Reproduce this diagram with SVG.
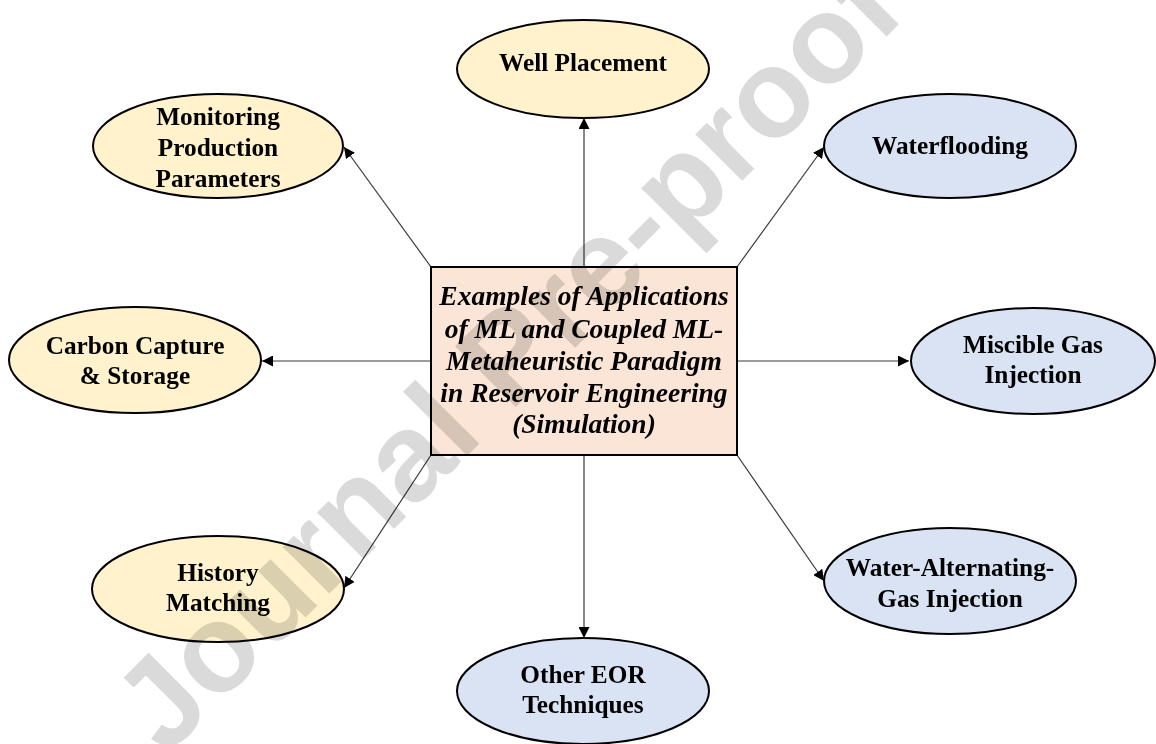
<svg xmlns="http://www.w3.org/2000/svg" width="1156" height="744" viewBox="0 0 1156 744">
<style>
.y{fill:#FFF2CC;stroke:#000;stroke-width:2}
.b{fill:#DAE3F3;stroke:#000;stroke-width:2}
.t{font-family:"Liberation Serif","Times New Roman",serif;font-weight:bold;font-size:25.3px;fill:#000;text-anchor:middle}
.c{font-family:"Liberation Serif","Times New Roman",serif;font-weight:bold;font-style:italic;font-size:27.5px;fill:#000;text-anchor:middle}
.ln{stroke:#3a3a3a;stroke-width:1.2;fill:none;marker-end:url(#ah)}
.wm{font-family:"Liberation Sans",Arial,sans-serif;font-weight:bold;font-size:125px;fill:#dadada;text-anchor:middle;mix-blend-mode:multiply}
</style>
<defs>
<marker id="ah" markerUnits="userSpaceOnUse" markerWidth="11" markerHeight="11" refX="11" refY="5.5" orient="auto">
<path d="M0,0 L11,5.5 L0,11 z" fill="#000"/>
</marker>
</defs>
<rect width="1156" height="744" fill="#fff"/>
<g id="connectors">
<path class="ln" d="M584,267 L584,118"/>
<path class="ln" d="M584,455 L584,638"/>
<path class="ln" d="M431,361 L262,361"/>
<path class="ln" d="M737,361 L909,361"/>
<path class="ln" d="M431,267 L344,147"/>
<path class="ln" d="M737,267 L824,147"/>
<path class="ln" d="M431,455 L344,588"/>
<path class="ln" d="M737,455 L824,581"/>
</g>
<g id="center">
<rect x="431" y="267" width="306" height="188" fill="#FBE5D6" stroke="#000" stroke-width="2"/>
<text class="c" x="584" y="305">Examples of Applications</text>
<text class="c" x="584" y="338">of ML and Coupled ML-</text>
<text class="c" x="584" y="370">Metaheuristic Paradigm</text>
<text class="c" x="584" y="402">in Reservoir Engineering</text>
<text class="c" x="584" y="433">(Simulation)</text>
</g>
<g id="well-placement">
<ellipse class="y" cx="583" cy="69" rx="126" ry="49"/>
<text class="t" x="583" y="71">Well Placement</text>
</g>
<g id="monitoring">
<ellipse class="y" cx="218" cy="146" rx="125" ry="52"/>
<text class="t" x="218" y="125">Monitoring</text>
<text class="t" x="218" y="156">Production</text>
<text class="t" x="218" y="187">Parameters</text>
</g>
<g id="carbon-capture">
<ellipse class="y" cx="135" cy="360" rx="126" ry="53"/>
<text class="t" x="135" y="354">Carbon Capture</text>
<text class="t" x="135" y="384">&amp; Storage</text>
</g>
<g id="history-matching">
<ellipse class="y" cx="218" cy="589" rx="126" ry="53"/>
<text class="t" x="218" y="581">History</text>
<text class="t" x="218" y="611">Matching</text>
</g>
<g id="waterflooding">
<ellipse class="b" cx="950" cy="146" rx="126" ry="52"/>
<text class="t" x="950" y="154">Waterflooding</text>
</g>
<g id="miscible-gas">
<ellipse class="b" cx="1033" cy="361" rx="122" ry="53"/>
<text class="t" x="1033" y="353">Miscible Gas</text>
<text class="t" x="1033" y="383">Injection</text>
</g>
<g id="wag">
<ellipse class="b" cx="950" cy="581" rx="126" ry="53"/>
<text class="t" x="950" y="576">Water-Alternating-</text>
<text class="t" x="950" y="607">Gas Injection</text>
</g>
<g id="other-eor">
<ellipse class="b" cx="583" cy="691" rx="126" ry="53"/>
<text class="t" x="583" y="683">Other EOR</text>
<text class="t" x="583" y="713">Techniques</text>
</g>
<text class="wm" x="537" y="386" transform="rotate(-45 537 386)">Journal Pre-proof</text>
</svg>
